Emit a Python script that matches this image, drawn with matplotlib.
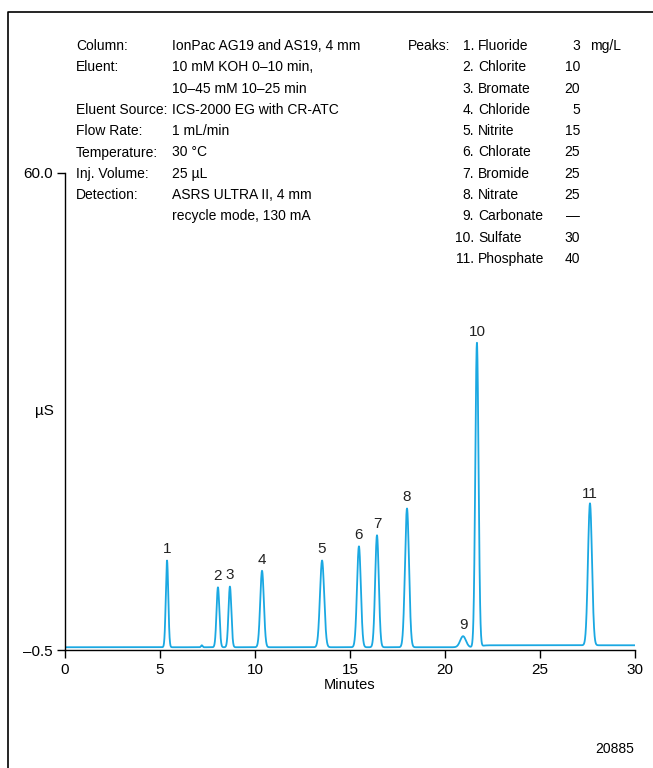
import matplotlib
matplotlib.use("Agg")
import matplotlib.pyplot as plt
from matplotlib.lines import Line2D
import numpy as np

plt.rcParams['font.family'] = ['Liberation Sans', 'DejaVu Sans']
plt.rcParams['font.size'] = 10

# peak table
peak_labels = ['1', '2', '3', '4', '5', '6', '7', '8', '9', '10', '11']
peak_times = [5.37, 8.05, 8.68, 10.37, 13.53, 15.47, 16.42, 18.0, 20.95, 21.68, 27.63]
peak_heights = [11.0, 7.6, 7.7, 9.7, 11.0, 12.8, 14.2, 17.6, 1.4, 38.6, 18.0]
peak_widths = [0.065, 0.075, 0.075, 0.095, 0.11, 0.10, 0.095, 0.105, 0.15, 0.085, 0.105]
baseline = -0.15

# method conditions
cond_names = ['Column:', 'Eluent:', '', 'Eluent Source:', 'Flow Rate:', 'Temperature:',
              'Inj. Volume:', 'Detection:', '']
cond_values = ['IonPac AG19 and AS19, 4 mm', '10 mM KOH 0\u201310 min,', '10\u201345 mM 10\u201325 min',
               'ICS-2000 EG with CR-ATC', '1 mL/min', '30 \u00b0C', '25 \u00b5L',
               'ASRS ULTRA II, 4 mm', 'recycle mode, 130 mA']
analytes = ['Fluoride', 'Chlorite', 'Bromate', 'Chloride', 'Nitrite', 'Chlorate',
            'Bromide', 'Nitrate', 'Carbonate', 'Sulfate', 'Phosphate']
conc = ['3', '10', '20', '5', '15', '25', '25', '25', '\u2014', '30', '40']

W, H = 653, 768
fig = plt.figure(figsize=(W / 100, H / 100), dpi=100)

def fx(px):
    return px / W

def fy(py):
    return 1 - py / H

ax = fig.add_axes([fx(65), fy(650), fx(635) - fx(65), fy(173) - fy(650)])

# build trace from the peak table
t = np.linspace(0, 30, 6000)
y = np.full_like(t, baseline)
for pt, ph, pw in zip(peak_times, peak_heights, peak_widths):
    y += ph * np.exp(-0.5 * ((t - pt) / pw) ** 2)
y += 0.25 * np.exp(-0.5 * ((t - 7.2) / 0.04) ** 2)  # small blip
y += 0.25 / (1 + np.exp(-(t - 21.9) / 0.1))  # baseline step after sulfate

ax.plot(t, y, color='#1aa8e2', lw=1.3)

for lab, pt, ph in zip(peak_labels, peak_times, peak_heights):
    ax.annotate(lab, (pt, ph + baseline), xytext=(0, 3), textcoords='offset points',
                ha='center', va='bottom', fontsize=11, color='#222222')

ax.set_xlim(0, 30)
ax.set_ylim(-0.5, 60)
ax.set_xticks([0, 5, 10, 15, 20, 25, 30])
ax.set_yticks([-0.5, 60])
ax.set_yticklabels(['\u20130.5', '60.0'])
ax.tick_params(direction='out', length=6, width=1, labelsize=11, pad=3)
for s in ['top', 'right']:
    ax.spines[s].set_visible(False)
ax.spines['left'].set_linewidth(1)
ax.spines['bottom'].set_linewidth(1)
ax.set_xlabel('Minutes', fontsize=10.5, labelpad=1)
fig.text(fx(44), fy(411), '\u00b5S', ha='center', va='center', fontsize=11)

# condition block
row = 21.3
for i, (n, v) in enumerate(zip(cond_names, cond_values)):
    yy = fy(46 + i * row)
    fig.text(fx(76), yy, n, va='center')
    fig.text(fx(172), yy, v, va='center')

fig.text(fx(408), fy(46), 'Peaks:', va='center')
for i, (a, c) in enumerate(zip(analytes, conc)):
    yy = fy(46 + i * row)
    fig.text(fx(474), yy, f'{i + 1}.', ha='right', va='center')
    fig.text(fx(478), yy, a, va='center')
    fig.text(fx(580), yy, c, ha='right', va='center')
fig.text(fx(590), fy(46), 'mg/L', va='center')

fig.text(fx(634), fy(749), '20885', ha='right', va='center', fontsize=10)

# outer frame (left and top edges visible)
fig.add_artist(Line2D([fx(8), fx(8), 1], [0, fy(12), fy(12)], color='black', lw=1.2,
                      transform=fig.transFigure))

fig.savefig('out.png', dpi=100)
